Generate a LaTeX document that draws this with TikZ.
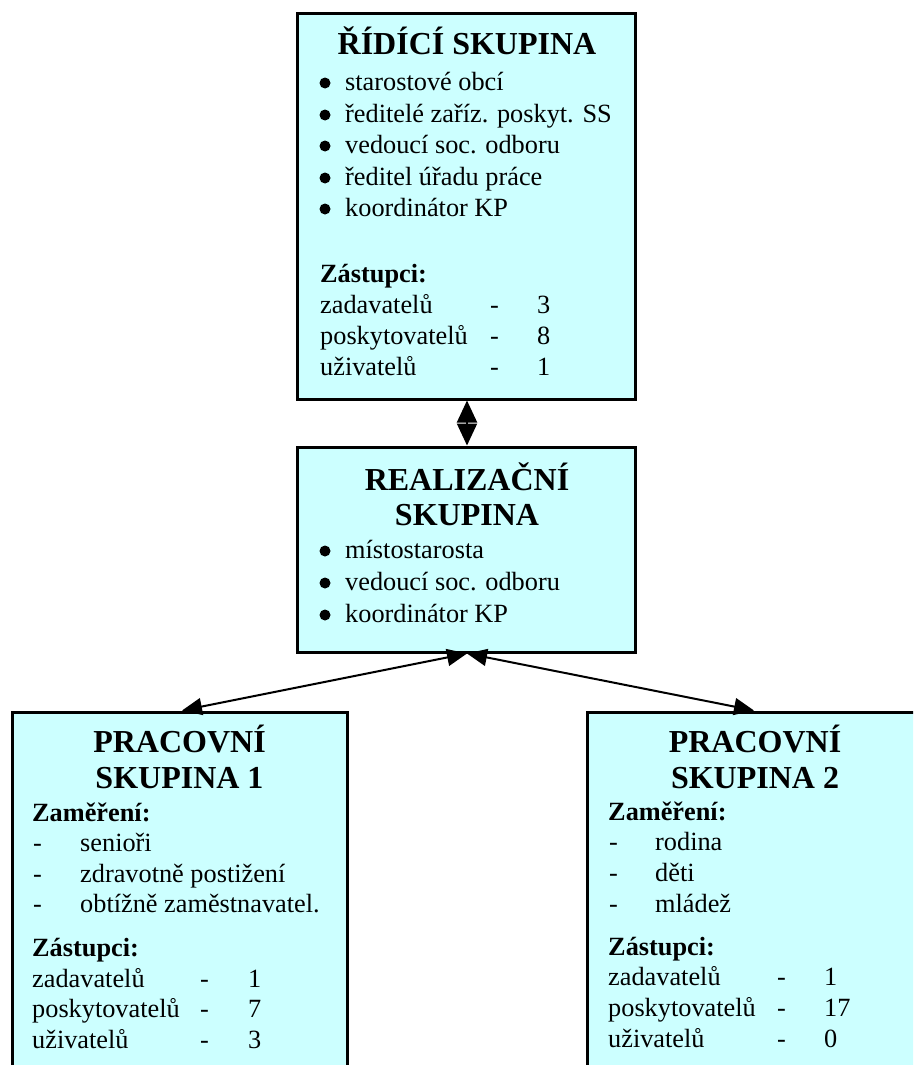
\documentclass[tikz,border=0pt]{standalone}
\usepackage{fontspec}
\setmainfont{Liberation Serif}
\usetikzlibrary{arrows.meta}
\definecolor{boxfill}{RGB}{204,255,255}
\begin{document}
\begin{tikzpicture}[x=1pt,y=-1pt,
  box/.style={draw=black, line width=3pt, fill=boxfill, inner sep=0pt},
  ttl/.style={anchor=base, inner sep=0pt, font=\fontsize{32}{37}\selectfont\bfseries},
  txt/.style={anchor=base west, inner sep=0pt, font=\fontsize{26.3}{31.5}\selectfont},
  hd/.style={anchor=base west, inner sep=0pt, font=\fontsize{26.3}{31.5}\selectfont\bfseries},
  bulletdot/.style={fill=black, circle, inner sep=0pt, minimum size=11pt},
  arr/.style={line width=2pt, {Triangle[length=22pt,width=20pt]}-{Triangle[length=22pt,width=20pt]}},
  arrd/.style={line width=2pt, {Triangle[length=20pt,width=17pt]}-{Triangle[length=20pt,width=17pt]}}]
\clip (0,0) rectangle (913,1065);
\fill[white] (0,0) rectangle (913,1065);
% boxes
\node[box, minimum width=338pt, minimum height=385pt] (top) at (466,206.5) {};
\node[box, minimum width=338pt, minimum height=205pt] (real) at (466,549.5) {};
\node[box, minimum width=335pt, minimum height=390pt] (left) at (179.5,907) {};
\node[box, minimum width=336pt, minimum height=390pt] (right) at (755,907) {};
% arrows
\draw[arr] ([xshift=1pt]top.south) -- ([xshift=1pt]real.north);
\coordinate (rb) at ([xshift=1pt]real.south);
\draw[arrd] (rb) -- ([xshift=2.5pt]left.north);
\draw[arrd] (rb) -- ([xshift=-1pt]right.north);
% top box text
\node[ttl] (t0) at (467,55) {ŘÍDÍCÍ SKUPINA};
\node[bulletdot] (tb1) at (325,83) {};  \node[txt] (t1) at (345,90) {starostové obcí};
\node[bulletdot] (tb2) at (325,115) {}; \node[txt] (t2) at (345,122) {ředitelé zaříz. poskyt. SS};
\node[bulletdot] (tb3) at (325,146) {}; \node[txt] (t3) at (345,153) {vedoucí soc. odboru};
\node[bulletdot] (tb4) at (325,178) {}; \node[txt] (t4) at (345,185) {ředitel úřadu práce};
\node[bulletdot] (tb5) at (325,209) {}; \node[txt] (t5) at (345,216) {koordinátor KP};
\node[hd] (t6) at (320,282) {Zástupci:};
\node[txt] (t7) at (320,313) {zadavatelů};    \node[txt] (t7d) at (490,313) {-}; \node[txt] (t7n) at (537,313) {3};
\node[txt] (t8) at (320,344) {poskytovatelů}; \node[txt] (t8d) at (490,344) {-}; \node[txt] (t8n) at (537,344) {8};
\node[txt] (t9) at (320,375) {uživatelů};     \node[txt] (t9d) at (490,375) {-}; \node[txt] (t9n) at (537,375) {1};
% realization box text
\node[ttl] (r0) at (467,490) {REALIZAČNÍ};
\node[ttl] (r0b) at (467,525) {SKUPINA};
\node[bulletdot] (rb1) at (325,551) {}; \node[txt] (r1) at (345,558) {místostarosta};
\node[bulletdot] (rb2) at (325,583) {}; \node[txt] (r2) at (345,590) {vedoucí soc. odboru};
\node[bulletdot] (rb3) at (325,615) {}; \node[txt] (r3) at (345,622) {koordinátor KP};
% left box text
\node[ttl] (l0) at (179.5,752) {PRACOVNÍ};
\node[ttl] (l0b) at (179.5,788) {SKUPINA 1};
\node[hd] (l1) at (32,821) {Zaměření:};
\node[txt] (l2d) at (33,851) {-}; \node[txt] (l2) at (80,851) {senioři};
\node[txt] (l3d) at (33,882) {-}; \node[txt] (l3) at (80,882) {zdravotně postižení};
\node[txt] (l4d) at (33,912) {-}; \node[txt] (l4) at (80,912) {obtížně zaměstnavatel.};
\node[hd] (l5) at (32,956) {Zástupci:};
\node[txt] (l6) at (32,987) {zadavatelů};     \node[txt] (l6d) at (200,987) {-};  \node[txt] (l6n) at (248,987) {1};
\node[txt] (l7) at (32,1017) {poskytovatelů}; \node[txt] (l7d) at (200,1017) {-}; \node[txt] (l7n) at (248,1017) {7};
\node[txt] (l8) at (32,1048) {uživatelů};     \node[txt] (l8d) at (200,1048) {-}; \node[txt] (l8n) at (248,1048) {3};
% right box text
\node[ttl] (p0) at (755,752) {PRACOVNÍ};
\node[ttl] (p0b) at (755,788) {SKUPINA 2};
\node[hd] (p1) at (608,820) {Zaměření:};
\node[txt] (p2d) at (609,850) {-}; \node[txt] (p2) at (655,850) {rodina};
\node[txt] (p3d) at (609,881) {-}; \node[txt] (p3) at (655,881) {děti};
\node[txt] (p4d) at (609,912) {-}; \node[txt] (p4) at (655,912) {mládež};
\node[hd] (p5) at (608,955) {Zástupci:};
\node[txt] (p6) at (608,985) {zadavatelů};     \node[txt] (p6d) at (777,985) {-};  \node[txt] (p6n) at (824,985) {1};
\node[txt] (p7) at (608,1016) {poskytovatelů}; \node[txt] (p7d) at (777,1016) {-}; \node[txt] (p7n) at (824,1016) {17};
\node[txt] (p8) at (608,1047) {uživatelů};     \node[txt] (p8d) at (777,1047) {-}; \node[txt] (p8n) at (824,1047) {0};
\end{tikzpicture}
\end{document}
